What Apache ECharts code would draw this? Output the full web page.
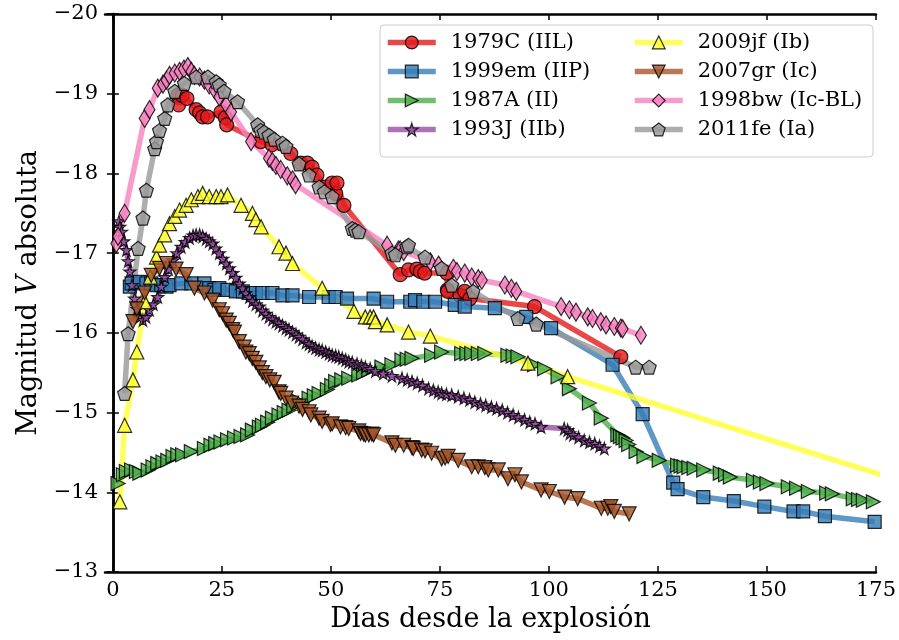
<!DOCTYPE html>
<html>
<head>
<meta charset="utf-8">
<script src="https://cdn.jsdelivr.net/npm/echarts@6/dist/echarts.min.js"></script>
<style>html,body{margin:0;padding:0;background:#fff}#c{width:899px;height:640px}</style>
</head>
<body>
<div id="c"></div>
<script>
var xTicks = [0, 25, 50, 75, 100, 125, 150, 175];
var yTicks = [-20, -19, -18, -17, -16, -15, -14, -13];

var names = ['1979C (IIL)', '1999em (IIP)', '1987A (II)', '1993J (IIb)', '2009jf (Ib)', '2007gr (Ic)', '1998bw (Ic-BL)', '2011fe (Ia)'];

var sn1979C = [[14.9,-18.98],[15.1,-18.86],[15.9,-18.98],[17.0,-18.94],[19.1,-18.80],[19.9,-18.76],[20.6,-18.71],[21.7,-18.71],[24.8,-18.77],[25.8,-18.70],[26.1,-18.61],[33.9,-18.40],[36.5,-18.36],[40.8,-18.25],[43.1,-18.13],[44.6,-18.13],[45.7,-18.08],[46.8,-17.98],[48.8,-17.83],[50.3,-17.88],[51.1,-17.75],[51.4,-17.88],[53.0,-17.60],[65.9,-16.73],[67.8,-16.79],[69.7,-16.80],[70.5,-16.77],[71.5,-16.75],[76.6,-16.75],[76.7,-16.54],[76.8,-16.52],[79.6,-16.47],[80.7,-16.52],[81.9,-16.43],[96.7,-16.33],[116.5,-15.70]];

var sn1999em = [[3.9,-16.58],[4.3,-16.62],[6.2,-16.64],[7.7,-16.62],[8.8,-16.62],[10.0,-16.60],[11.1,-16.60],[12.3,-16.58],[13.0,-16.60],[15.7,-16.62],[18.0,-16.62],[21.0,-16.62],[22.1,-16.56],[23.3,-16.54],[24.4,-16.56],[26.3,-16.54],[28.2,-16.52],[29.8,-16.52],[31.3,-16.50],[32.8,-16.50],[34.3,-16.50],[36.6,-16.50],[38.9,-16.47],[41.2,-16.47],[45.0,-16.45],[49.5,-16.45],[51.1,-16.45],[53.7,-16.43],[59.8,-16.43],[62.9,-16.39],[68.2,-16.39],[69.3,-16.41],[71.2,-16.39],[73.9,-16.39],[78.4,-16.35],[80.7,-16.33],[87.6,-16.31],[94.8,-16.20],[100.5,-16.06],[114.6,-15.60],[121.5,-14.98],[128.5,-14.12],[129.5,-14.04],[135.4,-13.94],[142.4,-13.89],[149.4,-13.82],[156.1,-13.76],[158.3,-13.76],[163.3,-13.70],[174.7,-13.63]];

var sn1987A = [[1.2,-14.11],[2.4,-14.22],[3.1,-14.26],[4.3,-14.28],[5.4,-14.26],[6.2,-14.24],[8.1,-14.28],[9.2,-14.32],[10.3,-14.36],[11.5,-14.38],[12.6,-14.40],[13.8,-14.45],[14.9,-14.47],[16.0,-14.47],[18.0,-14.51],[21.0,-14.55],[22.5,-14.59],[23.6,-14.61],[24.8,-14.63],[26.3,-14.66],[27.9,-14.68],[29.4,-14.70],[30.9,-14.72],[32.0,-14.78],[33.6,-14.82],[34.3,-14.84],[35.5,-14.88],[36.6,-14.93],[38.1,-14.97],[39.3,-15.00],[40.4,-15.03],[41.5,-15.08],[42.7,-15.14],[45.0,-15.18],[46.2,-15.21],[47.3,-15.24],[49.2,-15.29],[50.2,-15.34],[51.1,-15.39],[52.5,-15.41],[54.1,-15.43],[56.4,-15.47],[57.5,-15.50],[58.7,-15.53],[61.7,-15.57],[64.0,-15.60],[66.3,-15.66],[67.5,-15.67],[68.6,-15.68],[73.1,-15.72],[75.4,-15.76],[80.0,-15.74],[81.2,-15.74],[82.3,-15.74],[83.8,-15.74],[85.3,-15.74],[90.6,-15.72],[91.8,-15.71],[92.9,-15.70],[96.7,-15.60],[99.0,-15.55],[102.1,-15.45],[104.7,-15.30],[109.3,-15.12],[112.0,-14.93],[115.8,-14.72],[116.4,-14.70],[117.0,-14.68],[117.7,-14.65],[118.3,-14.60],[120.0,-14.51],[121.8,-14.45],[125.3,-14.40],[129.5,-14.34],[130.3,-14.33],[131.0,-14.32],[132.1,-14.31],[133.3,-14.30],[135.5,-14.28],[139.3,-14.24],[140.5,-14.22],[141.6,-14.19],[146.9,-14.15],[148.5,-14.13],[150.0,-14.11],[154.9,-14.07],[156.8,-14.05],[159.5,-14.01],[163.7,-13.99],[165.0,-13.98],[169.8,-13.92],[171.0,-13.91],[172.1,-13.90],[174.4,-13.88]];

var sn1993J = [[1.4,-17.40],[1.6,-17.33],[2.0,-17.27],[2.5,-17.15],[3.1,-17.04],[3.5,-16.90],[3.9,-16.77],[4.4,-16.60],[5.0,-16.43],[5.6,-16.30],[6.2,-16.20],[6.9,-16.16],[7.6,-16.20],[8.4,-16.29],[9.3,-16.36],[10.3,-16.45],[11.1,-16.58],[11.9,-16.70],[12.8,-16.80],[13.8,-16.91],[14.7,-17.00],[15.7,-17.08],[16.6,-17.14],[17.6,-17.19],[18.4,-17.22],[19.1,-17.23],[19.9,-17.23],[20.6,-17.21],[21.4,-17.18],[22.1,-17.15],[22.9,-17.12],[23.6,-17.06],[24.4,-17.00],[25.2,-16.93],[26.0,-16.87],[26.7,-16.81],[27.5,-16.75],[28.2,-16.69],[29.0,-16.62],[29.8,-16.56],[30.5,-16.50],[31.3,-16.45],[32.0,-16.40],[32.8,-16.36],[33.6,-16.33],[34.3,-16.28],[35.1,-16.24],[35.8,-16.20],[36.6,-16.17],[37.4,-16.14],[38.1,-16.12],[38.9,-16.09],[39.7,-16.06],[40.4,-16.04],[41.2,-16.01],[42.0,-15.98],[42.7,-15.95],[43.5,-15.92],[44.3,-15.88],[45.0,-15.86],[45.7,-15.83],[46.5,-15.81],[47.3,-15.79],[48.0,-15.78],[48.8,-15.76],[49.6,-15.74],[50.3,-15.72],[51.1,-15.71],[51.8,-15.70],[52.6,-15.68],[53.4,-15.66],[54.1,-15.64],[54.9,-15.63],[56.0,-15.61],[57.0,-15.59],[57.9,-15.57],[59.0,-15.55],[60.2,-15.52],[62.0,-15.49],[64.0,-15.46],[66.3,-15.43],[67.5,-15.41],[68.6,-15.39],[69.8,-15.37],[71.0,-15.34],[72.4,-15.30],[73.5,-15.28],[74.6,-15.26],[75.4,-15.24],[76.5,-15.23],[77.7,-15.22],[79.2,-15.20],[80.5,-15.18],[81.8,-15.16],[83.0,-15.13],[84.3,-15.11],[85.5,-15.09],[86.8,-15.07],[88.0,-15.05],[89.3,-15.03],[90.5,-15.00],[91.8,-14.97],[93.0,-14.94],[94.4,-14.91],[95.6,-14.88],[96.8,-14.86],[98.2,-14.82],[103.5,-14.80],[104.3,-14.78],[104.8,-14.74],[105.6,-14.72],[106.8,-14.69],[108.1,-14.65],[109.3,-14.63],[110.5,-14.61],[111.6,-14.58],[112.7,-14.55]];

var sn2009jf = [[1.6,-13.88],[2.7,-14.84],[4.6,-15.41],[5.5,-15.76],[7.3,-16.39],[8.6,-16.70],[10.0,-16.95],[10.7,-17.10],[11.9,-17.23],[13.0,-17.37],[14.2,-17.46],[15.3,-17.54],[16.8,-17.60],[18.0,-17.67],[19.5,-17.71],[20.6,-17.75],[22.1,-17.71],[23.7,-17.71],[24.8,-17.71],[26.3,-17.73],[29.4,-17.60],[32.0,-17.50],[32.8,-17.42],[34.0,-17.33],[38.1,-17.08],[39.7,-17.00],[41.2,-16.87],[48.0,-16.56],[55.3,-16.27],[57.9,-16.20],[59.0,-16.20],[59.8,-16.20],[60.2,-16.14],[62.9,-16.10],[67.8,-16.01],[72.8,-15.96],[95.2,-15.62],[104.3,-15.45],[185.0,-14.07]];

var sn2007gr = [[4.6,-16.14],[5.5,-16.30],[7.3,-16.50],[8.8,-16.72],[10.7,-16.81],[12.3,-16.87],[14.5,-16.80],[16.8,-16.73],[18.7,-16.56],[21.0,-16.50],[22.9,-16.41],[24.4,-16.29],[25.2,-16.24],[26.0,-16.16],[26.7,-16.12],[27.5,-16.04],[27.9,-16.01],[29.0,-15.89],[30.1,-15.82],[30.5,-15.76],[31.3,-15.74],[32.0,-15.68],[32.8,-15.63],[33.6,-15.56],[34.3,-15.50],[35.1,-15.45],[36.0,-15.41],[37.0,-15.38],[38.1,-15.26],[38.5,-15.24],[39.7,-15.18],[41.0,-15.12],[42.7,-15.08],[43.5,-15.04],[45.0,-15.01],[45.4,-14.97],[47.3,-14.93],[48.0,-14.89],[49.9,-14.85],[50.3,-14.86],[52.2,-14.82],[53.4,-14.81],[54.1,-14.80],[56.4,-14.77],[56.8,-14.74],[57.5,-14.73],[57.9,-14.72],[58.7,-14.72],[59.4,-14.73],[59.8,-14.72],[64.0,-14.62],[64.8,-14.59],[66.7,-14.59],[68.6,-14.56],[68.9,-14.55],[70.8,-14.53],[71.6,-14.52],[73.1,-14.49],[75.4,-14.42],[76.2,-14.43],[76.9,-14.45],[79.2,-14.40],[82.3,-14.32],[83.8,-14.32],[85.3,-14.31],[86.1,-14.28],[88.4,-14.28],[90.6,-14.17],[92.2,-14.22],[93.7,-14.13],[98.2,-14.03],[100.1,-14.01],[103.6,-13.94],[106.6,-13.92],[112.0,-13.80],[113.5,-13.80],[114.2,-13.82],[115.0,-13.76],[118.4,-13.73]];

var sn1998bw = [[0.8,-17.12],[1.2,-17.21],[2.7,-17.50],[7.3,-18.69],[8.4,-18.80],[10.3,-19.07],[11.5,-19.12],[12.3,-19.17],[13.0,-19.23],[14.2,-19.26],[15.3,-19.28],[16.3,-19.31],[17.2,-19.34],[18.0,-19.28],[18.7,-19.23],[19.9,-19.21],[21.0,-19.17],[22.1,-19.11],[23.3,-19.05],[24.4,-18.96],[26.0,-18.86],[27.1,-18.77],[31.7,-18.40],[35.8,-18.19],[36.6,-18.15],[37.4,-18.10],[38.5,-18.05],[40.0,-17.97],[41.2,-17.92],[41.9,-17.86],[62.9,-17.10],[65.5,-17.04],[65.9,-17.04],[66.7,-17.02],[72.8,-16.89],[74.7,-16.85],[78.1,-16.81],[78.9,-16.77],[80.7,-16.75],[82.3,-16.70],[83.8,-16.68],[84.6,-16.66],[89.9,-16.60],[91.4,-16.56],[92.5,-16.52],[102.8,-16.33],[104.7,-16.29],[106.2,-16.26],[108.9,-16.20],[110.0,-16.18],[111.9,-16.14],[113.1,-16.10],[115.0,-16.08],[116.5,-16.06],[116.9,-16.05],[121.1,-15.97]];

var sn2011fe = [[2.7,-15.24],[3.5,-15.99],[5.8,-17.06],[6.9,-17.44],[7.7,-17.79],[9.6,-18.31],[10.0,-18.40],[10.7,-18.54],[11.9,-18.69],[12.6,-18.86],[14.2,-19.03],[16.4,-19.13],[19.1,-19.21],[21.8,-19.21],[23.7,-19.15],[24.4,-19.11],[25.5,-19.03],[28.6,-18.90],[33.2,-18.61],[33.9,-18.54],[34.7,-18.52],[35.8,-18.48],[37.0,-18.43],[38.9,-18.38],[39.7,-18.34],[42.7,-18.12],[45.0,-17.98],[47.3,-17.83],[48.5,-17.77],[50.3,-17.71],[54.9,-17.31],[55.6,-17.29],[56.4,-17.27],[64.0,-17.00],[64.8,-16.98],[67.4,-17.08],[67.8,-17.10],[71.6,-16.95],[75.4,-16.81],[77.7,-16.60],[82.6,-16.52],[92.9,-16.18],[97.1,-16.11],[119.9,-15.57],[123.0,-15.57]];

var allData = [sn1979C, sn1999em, sn1987A, sn1993J, sn2009jf, sn2007gr, sn1998bw, sn2011fe];
var colors = ['#e41a1c', '#377eb8', '#4daf4a', '#984ea3', '#ffff33', '#a65628', '#f781bf', '#999999'];
var symbols = [
  'circle',
  'rect',
  'path://M0,0 L100,50 L0,100 Z',
  'path://M50,0 L61,35 L98,35 L68,57 L79,91 L50,70 L21,91 L32,57 L2,35 L39,35 Z',
  'triangle',
  'path://M0,0 L100,0 L50,100 Z',
  'diamond',
  'path://M50,0 L98,35 L79,91 L21,91 L2,35 Z'
];
var sizes = [14, 13, 14, 12, 14, 14, [11, 18], 14];

var FONT = 'DejaVu Serif';
var series = allData.map(function (d, i) {
  return {
    name: names[i],
    type: 'line',
    data: d,
    symbol: symbols[i],
    symbolSize: sizes[i],
    showAllSymbol: true,
    clip: true,
    lineStyle: {color: colors[i], width: 5.5, opacity: 0.8},
    itemStyle: {color: colors[i], borderColor: '#000', borderWidth: 1.2, opacity: 0.82},
    emphasis: {disabled: true},
    animation: false
  };
});

function minusFmt(v) { return String(v).replace('-', '\u2212'); }

var axisLineStyle = {show: true, lineStyle: {color: '#000', width: 2.5}};
var legendCommon = {
  orient: 'vertical', top: 32, padding: 0,
  itemWidth: 48, itemHeight: 16, itemGap: 8, z: 5,
  lineStyle: {width: 5.5, opacity: 0.8},
  itemStyle: {borderWidth: 1.2, borderColor: '#000'},
  textStyle: {fontFamily: FONT, fontSize: 21, color: '#000', padding: [0, 0, 0, 10]}
};
var option = {
  animation: false,
  backgroundColor: '#fff',
  textStyle: {fontFamily: FONT},
  grid: {left: 105, top: 14, width: 774, height: 558, show: false},
  graphic: [{
    type: 'rect', z: 3,
    shape: {x: 380, y: 25, width: 493, height: 132, r: 4},
    style: {fill: 'rgba(255,255,255,0.85)', stroke: '#cccccc', lineWidth: 1}
  }],
  legend: [
    Object.assign({data: names.slice(0, 4), left: 385}, legendCommon),
    Object.assign({data: names.slice(4), left: 632}, legendCommon)
  ],
  xAxis: [
    {
      type: 'value', position: 'bottom', min: -1.8, max: 175,
      axisLine: axisLineStyle,
      axisTick: {show: true, inside: true, length: 6, lineStyle: {color: '#000', width: 1.5}, customValues: xTicks},
      axisLabel: {customValues: xTicks, fontFamily: FONT, fontSize: 21, color: '#000', margin: 8},
      splitLine: {show: false},
      name: 'Días desde la explosión', nameLocation: 'middle', nameGap: 34,
      nameTextStyle: {fontFamily: FONT, fontSize: 27, color: '#000'}
    },
    {
      type: 'value', position: 'top', min: -1.8, max: 175,
      axisLine: axisLineStyle,
      axisTick: {show: true, inside: true, length: 6, lineStyle: {color: '#000', width: 1.5}, customValues: xTicks},
      axisLabel: {show: false, customValues: xTicks},
      splitLine: {show: false}
    }
  ],
  yAxis: [
    {
      type: 'value', position: 'left', min: -20, max: -13, interval: 1, inverse: true,
      axisLine: axisLineStyle,
      axisTick: {show: true, inside: true, length: 6, lineStyle: {color: '#000', width: 1.5}},
      axisLabel: {formatter: minusFmt, fontFamily: FONT, fontSize: 21, color: '#000', margin: 7},
      splitLine: {show: false},
      name: 'Magnitud {i|V} absoluta', nameLocation: 'middle', nameGap: 60,
      nameTextStyle: {fontFamily: FONT, fontSize: 27, color: '#000',
        rich: {i: {fontFamily: FONT, fontSize: 27, fontStyle: 'italic', color: '#000'}}}
    },
    {
      type: 'value', position: 'right', min: -20, max: -13, interval: 1, inverse: true,
      axisLine: axisLineStyle,
      axisTick: {show: true, inside: true, length: 6, lineStyle: {color: '#000', width: 1.5}},
      axisLabel: {show: false},
      splitLine: {show: false}
    }
  ],
  series: series
};

var chart = echarts.init(document.getElementById('c'), null, {renderer: 'canvas'});
chart.setOption(option);
</script>
</body>
</html>
